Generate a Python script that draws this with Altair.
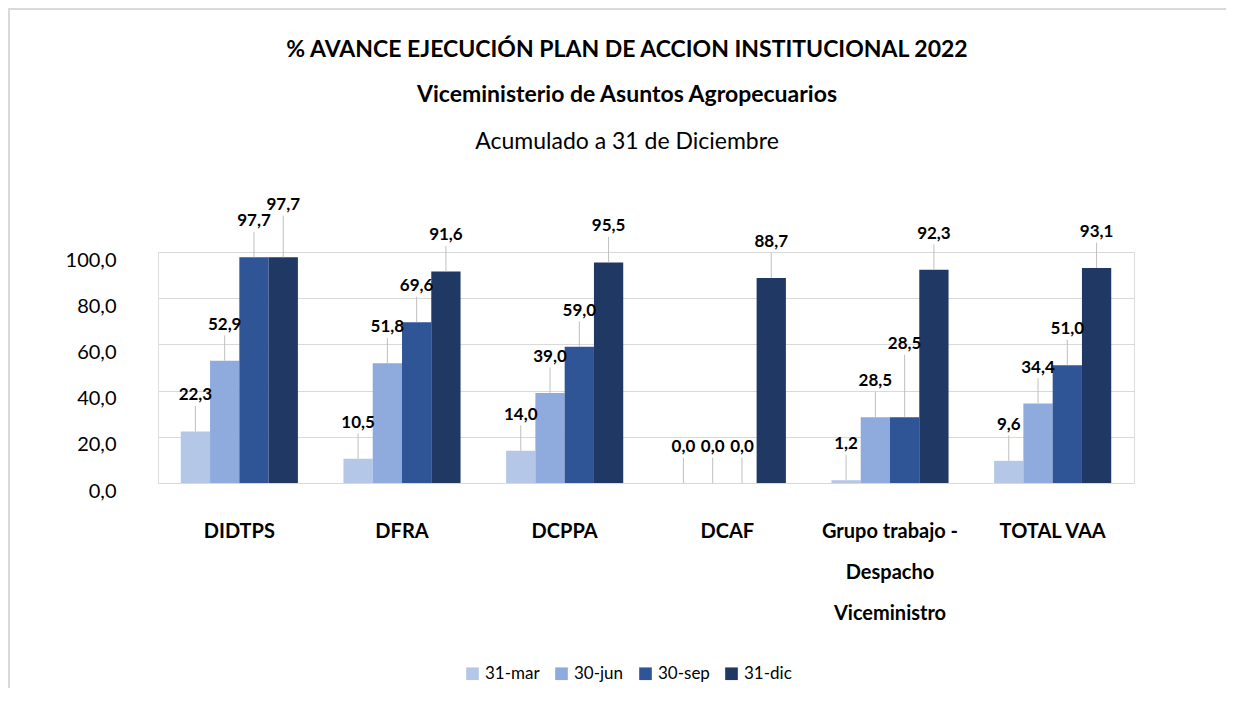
import altair as alt
import pandas as pd

categories = ["DIDTPS", "DFRA", "DCPPA", "DCAF",
              "Grupo trabajo - Despacho Viceministro", "TOTAL VAA"]
series = ["31-mar", "30-jun", "30-sep", "31-dic"]
v_mar = [22.3, 10.5, 14.0, 0.0, 1.2, 9.6]
v_jun = [52.9, 51.8, 39.0, 0.0, 28.5, 34.4]
v_sep = [97.7, 69.6, 59.0, 0.0, 28.5, 51.0]
v_dic = [97.7, 91.6, 95.5, 88.7, 92.3, 93.1]
colors = ["#B4C7E7", "#8FAADC", "#2F5597", "#203864"]

rows = []
for i, (s, vals) in enumerate(zip(series, [v_mar, v_jun, v_sep, v_dic])):
    for c, v in zip(categories, vals):
        rows.append({"cat": c, "serie": s, "orden": i, "valor": v})
df = pd.DataFrame(rows)

FONT = "Lato, Liberation Sans Narrow, sans-serif"

x_enc = alt.X("cat:N", sort=categories, title=None,
              scale=alt.Scale(paddingInner=0.28, paddingOuter=0.14),
              axis=alt.Axis(labelFontSize=20, labelFontWeight="bold", labelColor="#000000",
                            labelFont=FONT, labelAngle=0, labelPadding=38, ticks=False,
                            domain=False, labelLineHeight=41, labelBaseline="top",
                            labelExpr="datum.label == 'Grupo trabajo - Despacho Viceministro' ? ['Grupo trabajo -', 'Despacho', 'Viceministro'] : datum.label"))
xo = alt.XOffset("serie:N", sort=series)
y_enc = alt.Y("valor:Q", title=None,
              scale=alt.Scale(domain=[0, 100], nice=False),
              axis=alt.Axis(values=[0, 20, 40, 60, 80, 100], labelFontSize=20,
                            labelColor="#000000", labelFont=FONT, ticks=False, domain=False,
                            labelPadding=42, labelOffset=8, gridColor="#d9d9d9",
                            labelExpr="replace(format(datum.value, '.1f'), '.', ',')"))

base = alt.Chart(df)

bars = base.mark_bar().encode(
    x=x_enc, xOffset=xo, y=y_enc,
    color=alt.Color("serie:N", sort=series, title=None,
                    scale=alt.Scale(domain=series, range=colors),
                    legend=alt.Legend(orient="none", direction="horizontal",
                                      legendX=306, legendY=413, symbolType="square",
                                      symbolSize=160, symbolStrokeWidth=0,
                                      labelFontSize=17, labelFont=FONT, labelColor="#000000",
                                      columnPadding=13, labelOffset=4))
)

# labels: when a bar's value equals the previous bar's value in its group,
# raise its label to avoid overlap (as in the reference)
lab_base = base.transform_window(
    prev="lag(valor)", groupby=["cat"], sort=[alt.SortField("orden")]
).transform_calculate(
    bump="datum.prev != null && datum.valor > 0 && abs(datum.valor - datum.prev) < 3 ? (datum.valor > 50 ? 7 : 16) : 0",
).transform_calculate(
    ly="datum.valor + datum.bump",
    top="datum.valor + datum.bump + 11",
    lab="replace(format(datum.valor, '.1f'), '.', ',')",
)

leaders = lab_base.mark_rule(color="#bfbfbf", strokeWidth=1).encode(
    x=alt.X("cat:N", sort=categories), xOffset=xo, y="valor:Q", y2="top:Q")

labels = lab_base.mark_text(
    baseline="bottom", dy=-27, fontSize=17, fontWeight="bold", font=FONT, color="#000000"
).encode(x=alt.X("cat:N", sort=categories), xOffset=xo, y="ly:Q", text="lab:N")

frame_df = pd.DataFrame({"k": [0]})
border_top = alt.Chart(frame_df).mark_rule(color="#d9d9d9", strokeWidth=2).encode(
    x=alt.value(-150), x2=alt.value(1068), y=alt.value(-243))
border_left = alt.Chart(frame_df).mark_rule(color="#d9d9d9", strokeWidth=2).encode(
    x=alt.value(-149), y=alt.value(-244), y2=alt.value(460))

chart = alt.layer(border_top, border_left, bars, leaders, labels).properties(
    width=976, height=231,
    autosize=alt.AutoSizeParams(type="none"),
    padding={"left": 150, "top": 244, "right": 92, "bottom": 205},
    title=alt.TitleParams(
        text=["% AVANCE EJECUCIÓN PLAN DE ACCION INSTITUCIONAL 2022",
              "Viceministerio de Asuntos Agropecuarios"],
        subtitle="Acumulado a 31 de Diciembre",
        font=FONT, fontSize=23, fontWeight="bold", color="#000000", lineHeight=45,
        subtitleFont=FONT, subtitleFontSize=23, subtitleColor="#000000",
        subtitleFontWeight="normal", subtitlePadding=24,
        anchor="middle", dx=-19, offset=-147),
).configure_view(stroke=None).configure(background="white")

chart.save("out.html", embed_options={"renderer": "svg", "actions": False})
